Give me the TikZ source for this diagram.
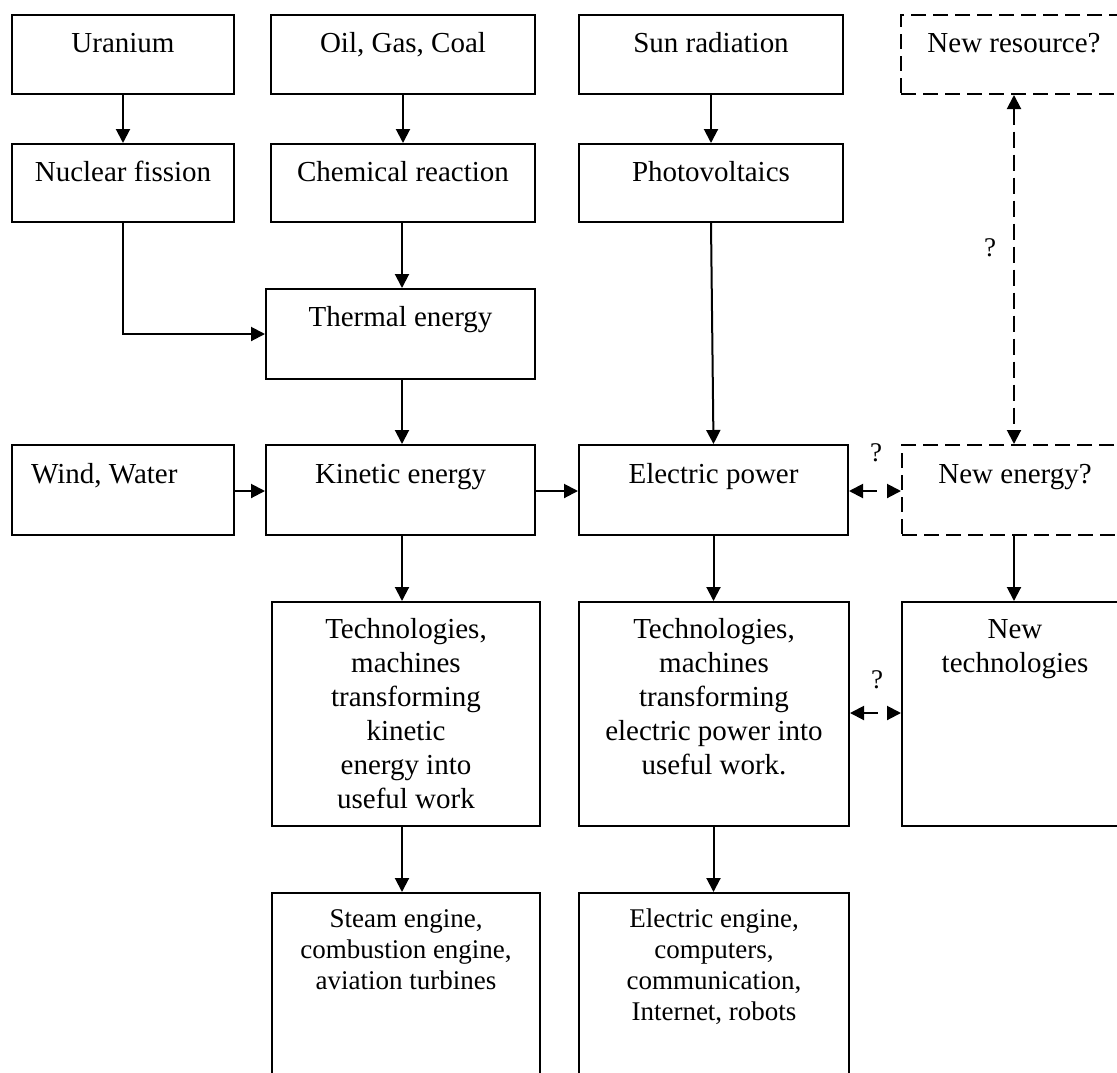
\documentclass[tikz,border=0pt]{standalone}
\usepackage{fontspec}
\setmainfont{Liberation Serif}
\usetikzlibrary{arrows.meta,calc}
\begin{document}
\begin{tikzpicture}[x=1pt,y=-1pt,
  box/.style={draw, line width=2pt, inner sep=0pt, anchor=north west},
  dbox/.style={box, dash pattern=on 15pt off 7pt},
  lbl/.style={font=\fontsize{29}{34}\selectfont, anchor=base, inner sep=0pt, align=center},
  slbl/.style={font=\fontsize{27}{31}\selectfont, anchor=base, inner sep=0pt, align=center},
  qlbl/.style={font=\fontsize{27}{31}\selectfont, inner sep=0pt},
  arr/.style={line width=2pt, -{Triangle[length=14pt,width=14pt]}},
  darr/.style={line width=2pt, {Triangle[length=14pt,width=14pt]}-{Triangle[length=14pt,width=14pt]}, dash pattern=on 16pt off 7pt},
  sdarr/.style={darr, dash pattern=on 14pt off 20pt}
]
\path[use as bounding box, clip] (0,0) rectangle (1117,1072);
\fill[white] (0,0) rectangle (1117,1072);

% row 1
\node[box, minimum width=222pt, minimum height=79pt] (ur) at (11,14) {};
\node[lbl] at ([yshift=-38pt]ur.north) {Uranium};
\node[box, minimum width=264pt, minimum height=79pt] (oil) at (270,14) {};
\node[lbl] at ([yshift=-38pt]oil.north) {Oil, Gas, Coal};
\node[box, minimum width=264pt, minimum height=79pt] (sun) at (578,14) {};
\node[lbl] at ([yshift=-38pt]sun.north) {Sun radiation};
\node[dbox, minimum width=226pt, minimum height=79pt] (nr) at (900,14) {};
\node[lbl] at ([yshift=-38pt]nr.north) {New resource?};

% row 2
\node[box, minimum width=222pt, minimum height=78pt] (nucl) at (11,143) {};
\node[lbl] at ([yshift=-38pt]nucl.north) {Nuclear fission};
\node[box, minimum width=264pt, minimum height=78pt] (chem) at (270,143) {};
\node[lbl] at ([yshift=-38pt]chem.north) {Chemical reaction};
\node[box, minimum width=264pt, minimum height=78pt] (pv) at (578,143) {};
\node[lbl] at ([yshift=-38pt]pv.north) {Photovoltaics};

% thermal
\node[box, minimum width=269pt, minimum height=90pt] (therm) at (265,288) {};
\node[lbl] at ([yshift=-38pt]therm.north) {Thermal energy};

% row 4
\node[box, minimum width=222pt, minimum height=90pt] (wind) at (11,444) {};
\node[lbl, anchor=base west] at ([xshift=20pt,yshift=-39pt]wind.north west) {Wind, Water};
\node[box, minimum width=269pt, minimum height=90pt] (kin) at (265,444) {};
\node[lbl] at ([yshift=-39pt]kin.north) {Kinetic energy};
\node[box, minimum width=269pt, minimum height=90pt] (elec) at (578,444) {};
\node[lbl] at ([yshift=-39pt]elec.north) {Electric power};
\node[dbox, minimum width=226pt, minimum height=90pt] (ne) at (901,444) {};
\node[lbl] at ([yshift=-39pt]ne.north) {New energy?};

% technologies (base anchor = last line's baseline)
\node[box, minimum width=268pt, minimum height=224pt] (tech1) at (271,601) {};
\node[lbl] at ([yshift=-207pt]tech1.north) {Technologies,\\machines\\transforming\\kinetic\\energy into\\useful work};
\node[box, minimum width=270pt, minimum height=224pt] (tech2) at (578,601) {};
\node[lbl] at ([yshift=-173pt]tech2.north) {Technologies,\\machines\\transforming\\electric power into\\useful work.};
\node[box, minimum width=226pt, minimum height=224pt] (ntech) at (901,601) {};
\node[lbl] at ([yshift=-71pt]ntech.north) {New\\technologies};

% bottom
\node[box, minimum width=268pt, minimum height=200pt] (steam) at (271,892) {};
\node[slbl] at ([yshift=-97pt]steam.north) {Steam engine,\\combustion engine,\\aviation turbines};
\node[box, minimum width=270pt, minimum height=200pt] (eleng) at (578,892) {};
\node[slbl] at ([yshift=-128pt]eleng.north) {Electric engine,\\computers,\\communication,\\Internet, robots};

% helper coordinates
\coordinate (ry) at (0,491);
\coordinate (ty) at (0,713);
\coordinate (vx) at (1014,0);
\coordinate (kx) at (402,0);

% connectors
\draw[arr] (ur) -- (nucl);
\draw[arr] (oil) -- (chem);
\draw[arr] (sun) -- (pv);
\draw[arr] (kx |- chem.south) -- (kx |- therm.north);
\draw[arr] (nucl.south) |- (therm.west);
\draw[arr] (kx |- therm.south) -- (kx |- kin.north);
\draw[arr] (pv.south) -- (elec.north);
\draw[arr] (wind.east |- ry) -- (kin.west |- ry);
\draw[arr] (kin.east |- ry) -- (elec.west |- ry);
\draw[sdarr] (elec.east |- ry) -- (ne.west |- ry);
\draw[darr] (vx |- nr.south) -- (vx |- ne.north);
\draw[arr] (vx |- ne.south) -- (vx |- ntech.north);
\draw[arr] (kx |- kin.south) -- (kx |- tech1.north);
\draw[arr] (elec.south) -- (elec.south |- tech2.north);
\draw[sdarr] (tech2.east |- ty) -- (ntech.west |- ty);
\draw[arr] (kx |- tech1.south) -- (kx |- steam.north);
\draw[arr] (elec.south |- tech2.south) -- (elec.south |- eleng.north);

% question marks
\node[qlbl] (q1) at (990,248) {?};
\node[qlbl] (q2) at (876,453) {?};
\node[qlbl] (q3) at (877,680) {?};
\end{tikzpicture}
\end{document}
